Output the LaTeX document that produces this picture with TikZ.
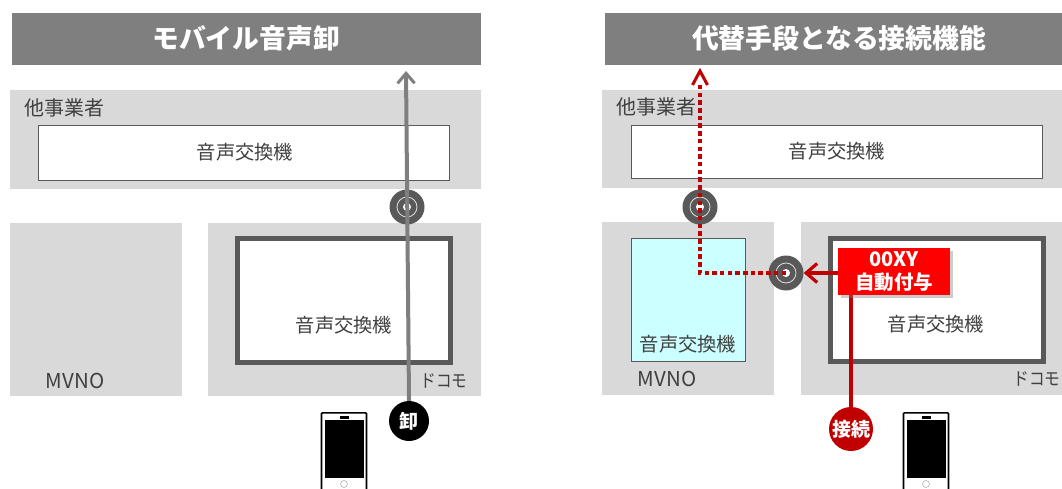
\documentclass[tikz,border=0pt]{standalone}
\usepackage{graphicx}
\usepackage{fontspec}
\setmainfont{Noto Sans CJK JP}
\usetikzlibrary{positioning,fit,shadows,arrows.meta}
\definecolor{headGray}{HTML}{7F7F7F}
\definecolor{panelGray}{HTML}{D9D9D9}
\definecolor{frameGray}{HTML}{595959}
\definecolor{textGray}{HTML}{404040}
\definecolor{darkRed}{HTML}{C00000}
\definecolor{lightCyan}{HTML}{CCFFFF}
\newcommand*{\fsize}[1]{\fontsize{#1}{#1}\selectfont}
\tikzstyle{head}=[fill=headGray,inner sep=0]
\tikzstyle{headtext}=[text=white,inner sep=0,font=\fsize{26.8}\bfseries]
\tikzstyle{panel}=[fill=panelGray,inner sep=0]
\tikzstyle{swbox}=[fill=white,draw=frameGray,line width=0.8,inner sep=0]
\tikzstyle{swthick}=[fill=white,draw=frameGray,line width=5,inner sep=0]
\tikzstyle{lbl}=[text=textGray,inner sep=0,font=\fsize{19.3}]
\tikzstyle{ring}=[circle,fill=frameGray,minimum size=35,inner sep=0]
\tikzset{
  ringed/.style={ring,path picture={
      \draw [white!75!gray,line width=0.8] (path picture bounding box.center) circle (10);
      \fill [white] (path picture bounding box.center) circle (4);}},
  badge/.style={circle,text=white,inner sep=0,font=\fsize{19}\bfseries},
  linePlain/.style={draw=headGray,line width=4,-{Straight Barb[length=10,width=17,line width=3]}},
  lineDot/.style={draw=darkRed,line width=4.3,dash pattern=on 4.5 off 3.2},
  lineCon/.style={draw=darkRed,line width=4,-{Straight Barb[length=11,width=19,line width=3.2]}},
}
\newcommand*{\phone}[2]{
    \node [draw=black,fill=white,line width=1.6,rounded corners=1,inner sep=0,minimum width=45,minimum height=88,anchor=north] (#1) at (#2,412) {};
    \node [fill=black,inner sep=0,minimum width=39,minimum height=58,anchor=north] (#1 Screen) at (#2,420) {};
    \node [fill=black,inner sep=0,minimum width=9,minimum height=3,anchor=south] (#1 Cam) at (#2,419.5) {};
    \node [circle,draw=gray!60,fill=white,line width=.6,inner sep=0,minimum size=7] (#1 Home) at (#2,484) {};
}
\begin{document}
\begin{tikzpicture}[x=1pt,y=-1pt]
    \useasboundingbox (0,0) rectangle (1062,489);

    % left side
    \node [head,fit={(12,13) (481,65)}] (L Head) {};
    \node [headtext] (L Title) at (246,38) {モバイル音声卸};
    \node [panel,fit={(10,90) (481,189)}] (L Other) {};
    \node [swbox,fit={(38,125) (449,180)}] (L Switch) {};
    \node [lbl] (L SwitchText) at (245,152) {音声交換機};
    \node [lbl,font=\fsize{20}] (L OtherText) at (64,108) {他事業者};
    \node [panel,fit={(10,223) (182,396)}] (L Mvno) {};
    \node [panel,fit={(208,223) (481,396)}] (L Docomo) {};
    \node [swthick,fit={(237,238) (450,362)}] (L DocoSwitch) {};
    \node [lbl] (L DocoText) at (344,325) {音声交換機};
    \node [lbl,font=\fsize{20.5}] (L MvnoText) at (75,381) {MVNO};
    \node [lbl,font=\fsize{18}] (L DocoName) at (444,381) {\scalebox{0.87}[1]{ドコモ}};
    \node [ringed] (L Ring) at (407,207) {};
    \node [badge,fill=black,minimum size=40] (Oroshi) at (409,421) {卸};
    \coordinate (L Tip) at (406,71);
    \draw [linePlain] (Oroshi.north) -- (L Tip);
    \phone{L Phone}{344}

    % right side
    \node [head,fit={(605,13) (1062,65)}] (R Head) {};
    \node [headtext] (R Title) at (839,38) {代替手段となる接続機能};
    \node [panel,fit={(602,90) (1062,188)}] (R Other) {};
    \node [swbox,fit={(631,125) (1042,178)}] (R Switch) {};
    \node [lbl] (R SwitchText) at (837,151) {音声交換機};
    \node [lbl,font=\fsize{20}] (R OtherText) at (656,107) {他事業者};
    \node [panel,fit={(602,222) (774,395)}] (R Mvno) {};
    \node [panel,fit={(801,222) (1062,395)}] (R Docomo) {};
    \node [swbox,fill=lightCyan,fit={(631,238) (745,361)}] (R MvnoSwitch) {};
    \node [swthick,fit={(830,238) (1043,361)}] (R DocoSwitch) {};
    \node [lbl] (R MvnoSwitchText) at (688,344) {音声交換機};
    \node [lbl] (R DocoText) at (936,324) {音声交換機};
    \node [lbl,font=\fsize{20.5}] (R MvnoText) at (667,379) {MVNO};
    \node [lbl,font=\fsize{18}] (R DocoName) at (1037,379) {\scalebox{0.87}[1]{ドコモ}};
    \node [ringed] (R RingA) at (700,207) {};
    \node [ringed] (R RingB) at (786,273) {};
    \node [badge,fill=darkRed,minimum size=44] (Connect) at (851,429) {接続};
    \coordinate (R Tip) at (700,71);
    \coordinate (R Neck) at (700,84);
    \draw [lineCon] (Connect.north) |- (R RingB.east);
    \draw [lineDot] (R RingB.center) -| (R Neck);
    \draw [draw=darkRed,line width=3] (692.5,85) -- (R Tip) -- (707.5,85);
    \node [fill=red,inner sep=0,text=white,align=center,font=\fsize{19.5}\bfseries,
           drop shadow={shadow xshift=3,shadow yshift=3,opacity=.4},
           minimum width=112,minimum height=47] (Auto) at (894,271.5) {{\fsize{20}00XY}\\[3pt]自動付与};
    \phone{R Phone}{926}
\end{tikzpicture}
\end{document}
